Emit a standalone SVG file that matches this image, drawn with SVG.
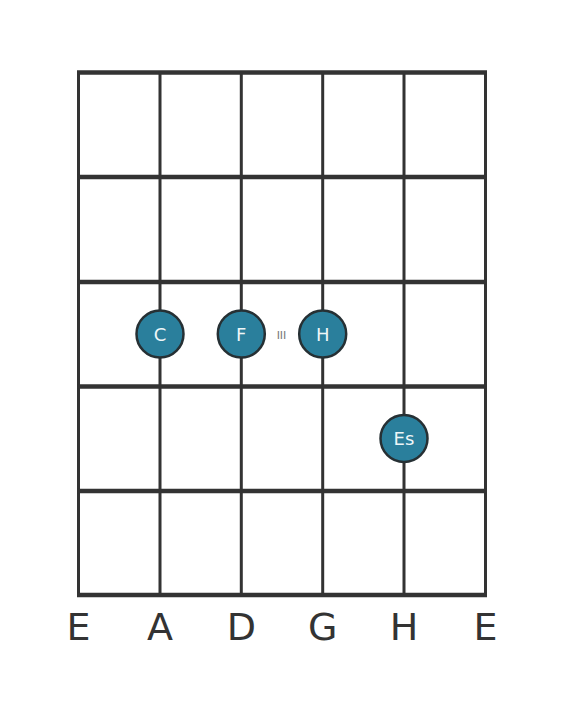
<svg xmlns="http://www.w3.org/2000/svg" width="566" height="711" viewBox="0 0 566 711">
  <style>
    .fret { stroke: #333333; stroke-width: 4.5; }
    .str { stroke: #333333; stroke-width: 3; }
    .dot { fill: #2a7f9c; stroke: #263034; stroke-width: 2.5; }
    .note { font-family: "DejaVu Sans", sans-serif; font-size: 18px; fill: #eef6f8; text-anchor: middle; }
    .lab { font-family: "DejaVu Sans", sans-serif; font-size: 38px; fill: #333333; text-anchor: middle; }
    .fl { font-family: "DejaVu Sans", sans-serif; font-size: 11px; fill: #777777; text-anchor: middle; }
  </style>
  <rect width="566" height="711" fill="#ffffff"/>
  <g id="connectors">
    <line class="str" x1="78.5" y1="72.5" x2="78.5" y2="595"/>
    <line class="str" x1="160" y1="72.5" x2="160" y2="595"/>
    <line class="str" x1="241.3" y1="72.5" x2="241.3" y2="595"/>
    <line class="str" x1="322.7" y1="72.5" x2="322.7" y2="595"/>
    <line class="str" x1="404" y1="72.5" x2="404" y2="595"/>
    <line class="str" x1="485.5" y1="72.5" x2="485.5" y2="595"/>
    <line class="fret" x1="77" y1="72.5" x2="487" y2="72.5"/>
    <line class="fret" x1="77" y1="177" x2="487" y2="177"/>
    <line class="fret" x1="77" y1="282" x2="487" y2="282"/>
    <line class="fret" x1="77" y1="386.5" x2="487" y2="386.5"/>
    <line class="fret" x1="77" y1="491" x2="487" y2="491"/>
    <line class="fret" x1="77" y1="595" x2="487" y2="595"/>
  </g>
  <g id="fret-label">
    <text class="fl" x="281.5" y="338.5">III</text>
  </g>
  <g id="note-C">
    <circle class="dot" cx="160" cy="334" r="23.5"/>
    <text class="note" x="160" y="340.5">C</text>
  </g>
  <g id="note-F">
    <circle class="dot" cx="241.3" cy="334" r="23.5"/>
    <text class="note" x="241.3" y="340.5">F</text>
  </g>
  <g id="note-H">
    <circle class="dot" cx="322.7" cy="334" r="23.5"/>
    <text class="note" x="322.7" y="340.5">H</text>
  </g>
  <g id="note-Es">
    <circle class="dot" cx="404" cy="438.5" r="23.5"/>
    <text class="note" x="404" y="445">Es</text>
  </g>
  <g id="string-labels">
    <text class="lab" x="78.5" y="640">E</text>
    <text class="lab" x="160" y="640">A</text>
    <text class="lab" x="241.3" y="640">D</text>
    <text class="lab" x="322.7" y="640">G</text>
    <text class="lab" x="404" y="640">H</text>
    <text class="lab" x="485.5" y="640">E</text>
  </g>
</svg>
